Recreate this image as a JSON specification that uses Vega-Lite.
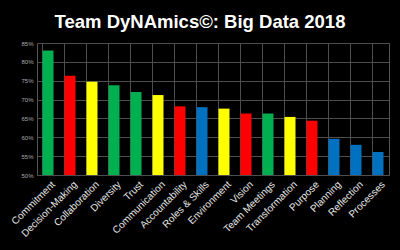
{
  "$schema": "https://vega.github.io/schema/vega-lite/v6.json",
  "width": 352,
  "height": 132,
  "autosize": {"type": "none"},
  "padding": {"left": 37, "top": 43, "right": 11, "bottom": 75},
  "background": "#000000",
  "title": {
    "text": "Team DyNAmics©: Big Data 2018",
    "color": "#ffffff",
    "font": "Liberation Sans",
    "fontSize": 18.5,
    "fontWeight": "bold",
    "anchor": "middle",
    "dx": -13,
    "offset": 9
  },
  "config": {
    "view": {"stroke": "#555555", "strokeWidth": 1},
    "axis": {"gridColor": "#4d4d4d", "gridWidth": 1, "domain": false}
  },
  "data": {
    "values": [
      {"topic": "Commitment", "score": 83.0, "group": "green"},
      {"topic": "Decision-Making", "score": 76.3, "group": "red"},
      {"topic": "Collaboration", "score": 74.7, "group": "yellow"},
      {"topic": "Diversity", "score": 73.8, "group": "green"},
      {"topic": "Trust", "score": 72.0, "group": "green"},
      {"topic": "Communication", "score": 71.2, "group": "yellow"},
      {"topic": "Accountability", "score": 68.2, "group": "red"},
      {"topic": "Roles & Skills", "score": 68.0, "group": "blue"},
      {"topic": "Environment", "score": 67.6, "group": "yellow"},
      {"topic": "Vision", "score": 66.3, "group": "red"},
      {"topic": "Team Meetings", "score": 66.3, "group": "green"},
      {"topic": "Transformation", "score": 65.4, "group": "yellow"},
      {"topic": "Purpose", "score": 64.4, "group": "red"},
      {"topic": "Planning", "score": 59.6, "group": "blue"},
      {"topic": "Reflection", "score": 58.0, "group": "blue"},
      {"topic": "Processes", "score": 56.1, "group": "blue"}
    ]
  },
  "mark": {"type": "bar"},
  "encoding": {
    "x": {
      "field": "topic",
      "type": "nominal",
      "sort": null,
      "scale": {"paddingInner": 0.5, "paddingOuter": 0.25},
      "axis": {
        "title": null,
        "grid": true,
        "bandPosition": 0,
        "ticks": false,
        "labelAngle": -45,
        "labelAlign": "right",
        "labelBaseline": "top",
        "labelFont": "Liberation Sans",
        "labelFontSize": 10,
        "labelColor": "#e6e6e6",
        "labelPadding": 4,
        "labelOffset": 2,
        "labelBound": false,
        "labelOverlap": false
      }
    },
    "y": {
      "field": "score",
      "type": "quantitative",
      "scale": {"domain": [50, 85], "zero": false, "nice": false},
      "axis": {
        "title": null,
        "values": [50, 55, 60, 65, 70, 75, 80, 85],
        "labelExpr": "datum.value + '%'",
        "labelFont": "Liberation Sans",
        "labelFontSize": 6,
        "labelColor": "#aaaaaa",
        "ticks": false,
        "labelPadding": 4
      }
    },
    "y2": {"datum": 50},
    "color": {
      "field": "group",
      "type": "nominal",
      "scale": {
        "domain": ["green", "red", "yellow", "blue"],
        "range": ["#00B050", "#FF0000", "#FFFF00", "#0070C0"]
      },
      "legend": null
    }
  }
}
